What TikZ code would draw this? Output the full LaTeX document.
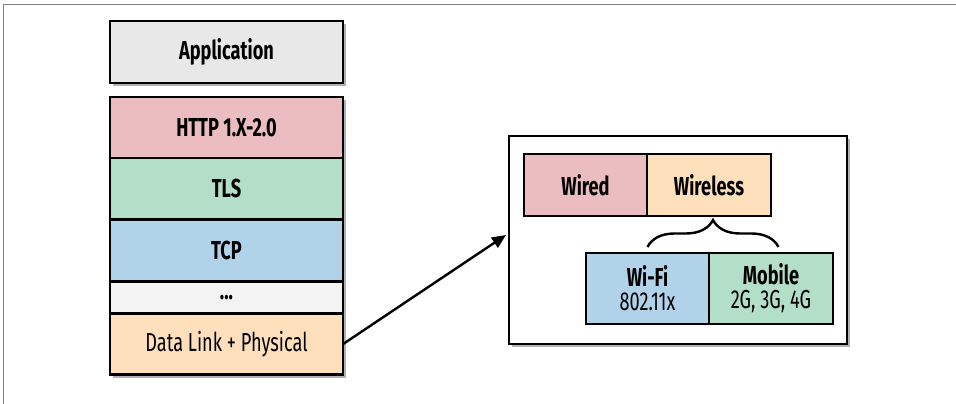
\documentclass[tikz,border=0pt]{standalone}
\usepackage{fontspec}
\setmainfont{Fira Sans}[FakeStretch=0.7]
\usepackage{tikz}
\usetikzlibrary{positioning,calc,arrows.meta,shadows,decorations.pathreplacing}
\definecolor{appgray}{HTML}{E8E8E8}
\definecolor{httppink}{HTML}{EBBDC0}
\definecolor{tlsgreen}{HTML}{B3DFC8}
\definecolor{tcpblue}{HTML}{B1D3EA}
\definecolor{dotgray}{HTML}{F3F3F3}
\definecolor{linkorange}{HTML}{FDDFBC}
\tikzset{
  layer/.style={draw,line width=2.4pt,outer sep=0pt,minimum width=233pt,minimum height=61.3pt,
                font=\fontsize{26}{24}\selectfont\bfseries,align=center,
                drop shadow={shadow xshift=3pt,shadow yshift=-3pt,fill=black,opacity=0.3}},
  sub/.style={draw,line width=2.4pt,outer sep=0pt,minimum width=123.5pt,minimum height=62pt,
              font=\fontsize{26}{24}\selectfont\bfseries,align=center},
  arr/.style={-{Triangle[length=14pt,width=12pt]},line width=2.4pt},
}
\begin{document}
\begin{tikzpicture}[x=1pt,y=1pt]
  \useasboundingbox (0,0) rectangle (956,404);
  %% frame
  \draw[gray,line width=1.5pt] (3.5,0) -- (3.5,399.5) -- (956,399.5);
  %% Protocol stack
  \node[layer,fill=appgray,minimum height=62pt] at (226.5,352) (app)  {Application};
  \node[layer,fill=httppink,below=14pt of app]  (http) {HTTP 1.X-2.0};
  \node[layer,fill=tlsgreen,below=0pt of http]  (tls)  {TLS};
  \node[layer,fill=tcpblue,below=0pt of tls,minimum height=62pt] (tcp) {TCP};
  \node[layer,fill=dotgray,below=0pt of tcp,minimum height=32pt] (dots) {...};
  \node[layer,fill=linkorange,below=0pt of dots,minimum height=61pt,
        font=\fontsize{26}{24}\selectfont] (link) {Data Link + Physical};
  %% Physical panel
  \node[layer,fill=white,minimum width=338pt,minimum height=208pt] at (678,164) (phys) {};
  \node[sub,fill=httppink] at (585.5,219)      (wired)    {Wired};
  \node[sub,fill=linkorange,right=0pt of wired] (wireless) {Wireless};
  \node[sub,fill=tcpblue,minimum height=71pt] at (647.5,115.5) (wifi)
       {Wi-Fi\\\mdseries 802.11x};
  \node[sub,fill=tlsgreen,minimum height=71pt,right=0pt of wifi] (mobile)
       {Mobile\\\mdseries 2G, 3G, 4G};
  %% Edges
  \draw[line width=2.4pt,decorate,decoration={brace,amplitude=27pt}]
       ($(wifi.north)+(0,6)$) -- ($(mobile.north)+(7.5,6)$);
  \draw[arr] (link.east) -- ([yshift=5pt,xshift=-3pt]phys.west);
\end{tikzpicture}
\end{document}
